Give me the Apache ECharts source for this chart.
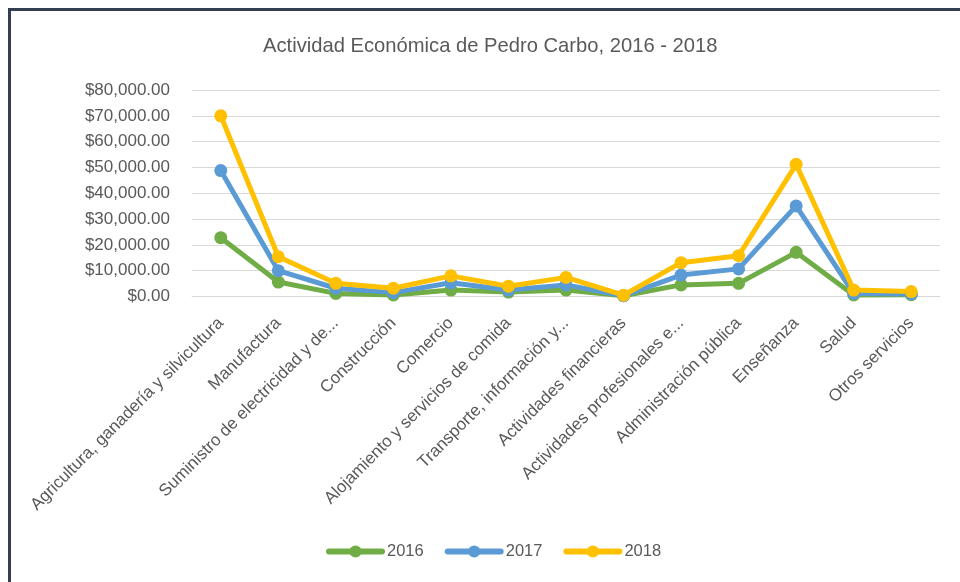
<!DOCTYPE html>
<html><head><meta charset="utf-8">
<script src="https://cdn.jsdelivr.net/npm/echarts@6/dist/echarts.min.js"></script>
<style>html,body{margin:0;padding:0;background:#fff}#c{width:960px;height:582px}</style>
</head><body><div id="c"></div>
<script>
const categories = [
  "Agricultura, ganadería y silvicultura",
  "Manufactura",
  "Suministro de electricidad y de...",
  "Construcción",
  "Comercio",
  "Alojamiento y servicios de comida",
  "Transporte, información y...",
  "Actividades financieras",
  "Actividades profesionales e...",
  "Administración pública",
  "Enseñanza",
  "Salud",
  "Otros servicios"
];
const v2016 = [22800, 5600, 1200, 600, 2500, 1700, 2500, 300, 4500, 5100, 17100, 600, 700];
const v2017 = [48800, 10000, 3200, 1500, 5300, 2500, 4500, 300, 8300, 10700, 35100, 1200, 1000];
const v2018 = [70000, 15400, 5100, 3200, 8000, 4000, 7400, 500, 13100, 15800, 51200, 2500, 1900];
const yTicks = {min: 0, max: 80000, interval: 10000};

const FONT = "Liberation Sans";
const chart = echarts.init(document.getElementById('c'), null, {renderer: 'canvas'});
function ser(name, data, color) {
  return {
    name, type: 'line', data,
    symbol: 'circle', symbolSize: 13,
    lineStyle: {width: 5, color},
    itemStyle: {color},
    emphasis: {disabled: true}
  };
}
chart.setOption({
  animation: false,
  textStyle: {fontFamily: FONT},
  title: {
    text: 'Actividad Económica de Pedro Carbo, 2016 - 2018',
    left: 258, top: 31,
    textStyle: {fontFamily: FONT, fontSize: 20.2, fontWeight: 'normal', color: '#595959'}
  },
  legend: {
    top: 538, left: 321,
    itemWidth: 53, itemHeight: 15, itemGap: 21,
    lineStyle: {width: 6, cap: 'round'},
    textStyle: {fontFamily: FONT, fontSize: 16.5, color: '#595959', padding: [0, 0, 0, 0]},
    data: ['2016', '2017', '2018']
  },
  grid: {left: 192, right: 20, top: 90, bottom: 285.5, containLabel: false},
  xAxis: {
    type: 'category', data: categories, boundaryGap: true,
    axisLine: {show: true, lineStyle: {color: '#d9d9d9', width: 1}},
    axisTick: {show: false},
    axisLabel: {rotate: 45, interval: 0, fontFamily: FONT, fontSize: 17, color: '#595959', margin: 24}
  },
  yAxis: {
    type: 'value', min: yTicks.min, max: yTicks.max, interval: yTicks.interval,
    axisLine: {show: false}, axisTick: {show: false},
    splitLine: {lineStyle: {color: '#d9d9d9', width: 1}},
    axisLabel: {
      fontFamily: FONT, fontSize: 17, color: '#595959', margin: 22,
      formatter: v => '$' + v.toLocaleString('en-US', {minimumFractionDigits: 2, maximumFractionDigits: 2})
    }
  },
  graphic: [
    {type: 'line', shape: {x1: 9.5, y1: 9.5, x2: 960, y2: 9.5}, style: {stroke: '#333F50', lineWidth: 3}},
    {type: 'line', shape: {x1: 9.5, y1: 8, x2: 9.5, y2: 582}, style: {stroke: '#333F50', lineWidth: 3}}
  ],
  series: [
    ser('2016', v2016, '#70AD47'),
    ser('2017', v2017, '#5B9BD5'),
    ser('2018', v2018, '#FFC000')
  ]
});
</script></body></html>
